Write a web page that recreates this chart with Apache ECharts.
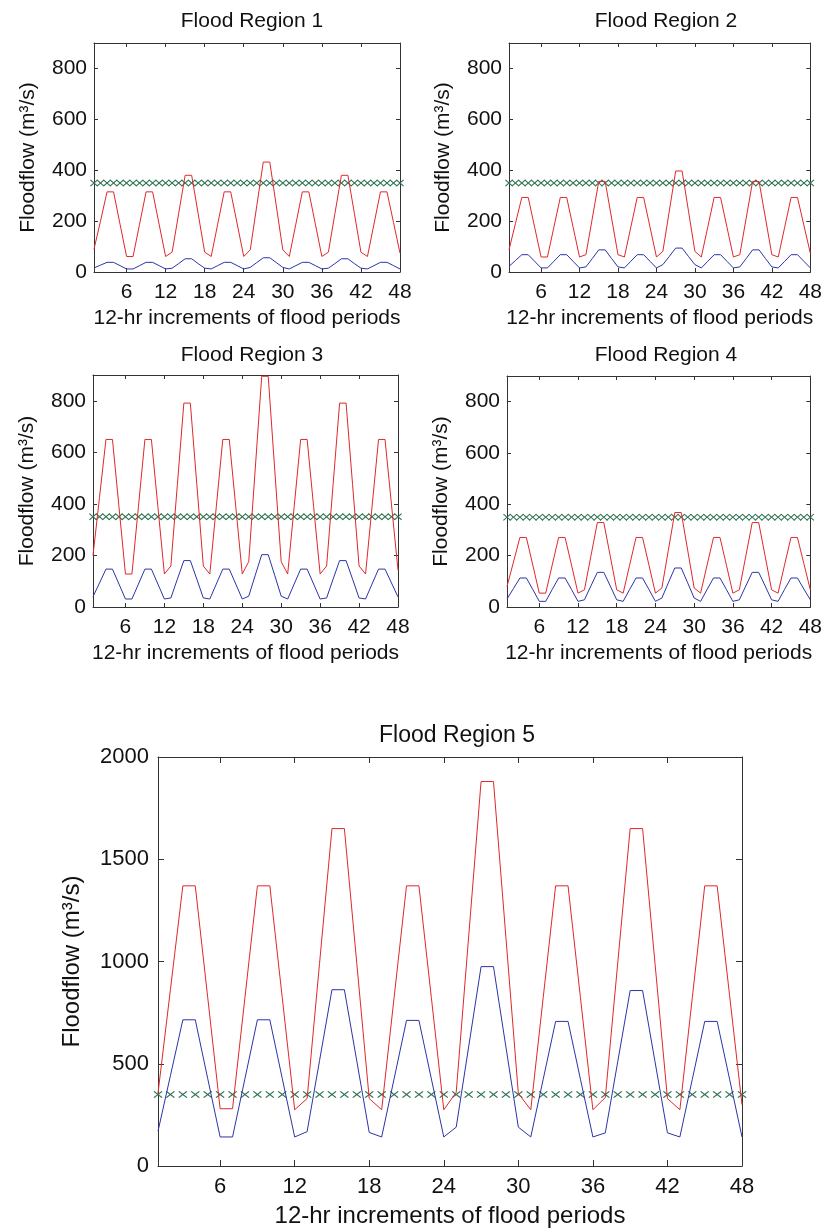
<!DOCTYPE html>
<html>
<head>
<meta charset="utf-8">
<style>
    html, body { margin: 0; padding: 0; background: #fff; }
    #chart { width: 825px; height: 1232px; }
</style>
</head>
<body>
<div id="chart"></div>
<script src="https://cdn.jsdelivr.net/npm/echarts@6/dist/echarts.min.js"></script>
<script>
// 12-hr periods on the x axis
var periods = [1,2,3,4,5,6,7,8,9,10,11,12,13,14,15,16,17,18,19,20,21,22,23,24,
               25,26,27,28,29,30,31,32,33,34,35,36,37,38,39,40,41,42,43,44,45,46,47,48];
var xTicks = [6,12,18,24,30,36,42,48];
var smallYTicks = [0,200,400,600,800];
var bigYTicks = [0,500,1000,1500,2000];
var threshold = 350;

// red = upper flow, blue = lower flow (m3/s)
var region1Red  = [90,200,315,315,188,61,61,188,315,315,188,61,78,229,380,380,229,78,61,188,315,315,188,61,
                   87,260,432,432,260,87,61,188,315,315,188,61,78,229,380,380,229,78,61,188,315,315,195,74];
var region1Blue = [16,27,38,38,25,12,12,25,38,38,25,12,15,33,52,52,33,15,12,25,38,38,25,12,
                   18,37,56,56,37,18,12,25,38,38,25,12,15,33,52,52,33,15,12,25,38,38,25,12];

var region2Red  = [87,190,293,293,176,59,59,176,293,293,176,59,68,212,356,356,212,68,59,176,293,293,176,59,
                   81,239,397,397,239,81,59,176,293,293,176,59,68,212,356,356,212,68,59,176,293,293,183,74];
var region2Blue = [22,45,68,68,42,16,16,42,68,68,42,16,20,53,87,87,53,20,16,42,68,68,42,16,
                   29,61,94,94,61,29,16,42,68,68,42,16,20,53,87,87,53,20,16,42,68,68,42,16];

var region3Red  = [200,425,650,650,389,128,128,389,650,650,389,128,159,475,791,791,475,159,128,389,650,650,389,128,
                   176,535,895,895,535,176,128,389,650,650,389,128,159,475,791,791,475,159,128,389,650,650,396,143];
var region3Blue = [40,93,147,147,89,31,31,89,147,147,89,31,35,108,180,180,108,35,31,89,147,147,89,31,
                   42,123,203,203,123,42,31,89,147,147,89,31,35,108,180,180,108,35,31,89,147,147,93,39];

var region4Red  = [80,175,271,271,163,54,54,163,271,271,163,54,67,198,329,329,198,67,54,163,271,271,163,54,
                   74,221,368,368,221,74,54,163,271,271,163,54,67,198,329,329,198,67,54,163,271,271,169,67];
var region4Blue = [31,72,113,113,68,22,22,68,113,113,68,22,28,82,135,135,82,28,22,68,113,113,68,22,
                   35,94,152,152,94,35,22,68,113,113,68,22,28,82,135,135,82,28,22,68,113,113,70,28];

var region5Red  = [356,863,1370,1370,825,280,280,825,1370,1370,823,275,330,990,1650,1650,990,330,275,823,1370,1370,823,275,
                   360,1120,1880,1880,1118,355,275,823,1370,1370,823,275,335,993,1650,1650,990,330,275,823,1370,1370,835,300];
var region5Blue = [170,442,715,715,428,142,142,428,715,715,428,142,168,515,862,862,513,164,142,426,712,712,426,142,
                   190,582,975,975,582,190,142,424,707,707,424,142,162,510,858,858,510,162,142,424,707,707,425,142];

var font = "'Liberation Sans', Arial, Helvetica, sans-serif";
var axisColor = '#333';
var textColor = '#111';
var redColor = '#e0282c';
var blueColor = '#2c34a6';
var greenColor = '#2f7352';
var crossPath = 'path://M0,1L1,0L5,4L9,0L10,1L6,5L10,9L9,10L5,6L1,10L0,9L4,5Z';

var regions = [
    {title: 'Flood Region 1', red: region1Red, blue: region1Blue, yMax: 900, yTicks: smallYTicks,
     grid: {left: 94, top: 43, width: 306, height: 229}, titleX: 247, titleY: 6, big: false},
    {title: 'Flood Region 2', red: region2Red, blue: region2Blue, yMax: 900, yTicks: smallYTicks,
     grid: {left: 509, top: 43, width: 304, height: 229}, titleX: 661, titleY: 6, big: false},
    {title: 'Flood Region 3', red: region3Red, blue: region3Blue, yMax: 900, yTicks: smallYTicks,
     grid: {left: 93, top: 375, width: 305, height: 232}, titleX: 247, titleY: 340, big: false},
    {title: 'Flood Region 4', red: region4Red, blue: region4Blue, yMax: 900, yTicks: smallYTicks,
     grid: {left: 507, top: 376, width: 306, height: 231}, titleX: 661, titleY: 340, big: false},
    {title: 'Flood Region 5', red: region5Red, blue: region5Blue, yMax: 2000, yTicks: bigYTicks,
     grid: {left: 158, top: 757, width: 584, height: 409}, titleX: 452, titleY: 719, big: true}
];

var titles = [], grids = [], xAxes = [], yAxes = [], series = [];

regions.forEach(function (r, g) {
    var fs = r.big ? 22 : 21;
    var tickLen = r.big ? 6 : 4;
    titles.push({
        text: r.title, left: r.titleX, top: r.titleY, textAlign: 'center',
        textStyle: {fontFamily: font, fontSize: r.big ? 23 : 21, fontWeight: 'normal', color: textColor}
    });
    grids.push({left: r.grid.left, top: r.grid.top, width: r.grid.width, height: r.grid.height, show: false});

    // bottom axis with labels, top axis only for the inner ticks
    xAxes.push({
        type: 'value', gridIndex: g, position: 'bottom', min: 1, max: 48,
        name: '12-hr increments of flood periods', nameLocation: 'middle', nameGap: r.big ? 38 : 36,
        nameTextStyle: {fontFamily: font, fontSize: r.big ? 24 : 21, color: textColor},
        axisLine: {show: true, onZero: false, lineStyle: {color: axisColor, width: 1}},
        axisTick: {show: true, inside: true, length: tickLen, customValues: xTicks, lineStyle: {color: axisColor}},
        axisLabel: {customValues: xTicks, margin: 10, fontFamily: font, fontSize: fs, color: textColor},
        splitLine: {show: false}
    });
    xAxes.push({
        type: 'value', gridIndex: g, position: 'top', min: 1, max: 48,
        axisLine: {show: true, onZero: false, lineStyle: {color: axisColor, width: 1}},
        axisTick: {show: true, inside: true, length: tickLen, customValues: xTicks, lineStyle: {color: axisColor}},
        axisLabel: {show: false},
        splitLine: {show: false}
    });
    yAxes.push({
        type: 'value', gridIndex: g, position: 'left', min: 0, max: r.yMax,
        name: 'Floodflow (m³/s)', nameLocation: 'middle', nameGap: r.big ? 74 : 55,
        nameTextStyle: {fontFamily: font, fontSize: r.big ? 24 : 21, color: textColor},
        axisLine: {show: true, onZero: false, lineStyle: {color: axisColor, width: 1}},
        axisTick: {show: true, inside: true, length: tickLen, customValues: r.yTicks, lineStyle: {color: axisColor}},
        axisLabel: {customValues: r.yTicks, margin: r.big ? 9 : 7, fontFamily: font, fontSize: fs, color: textColor,
                    formatter: function (v) { return String(v); }},
        splitLine: {show: false}
    });
    yAxes.push({
        type: 'value', gridIndex: g, position: 'right', min: 0, max: r.yMax,
        axisLine: {show: true, onZero: false, lineStyle: {color: axisColor, width: 1}},
        axisTick: {show: true, inside: true, length: tickLen, customValues: r.yTicks, lineStyle: {color: axisColor}},
        axisLabel: {show: false},
        splitLine: {show: false}
    });

    series.push({
        type: 'line', xAxisIndex: 2 * g, yAxisIndex: 2 * g, symbol: 'none',
        lineStyle: {color: redColor, width: 1},
        data: periods.map(function (p, i) { return [p, r.red[i]]; })
    });
    series.push({
        type: 'line', xAxisIndex: 2 * g, yAxisIndex: 2 * g, symbol: 'none',
        lineStyle: {color: blueColor, width: 1},
        data: periods.map(function (p, i) { return [p, r.blue[i]]; })
    });
    series.push({
        type: 'scatter', xAxisIndex: 2 * g, yAxisIndex: 2 * g,
        symbol: crossPath, symbolSize: r.big ? [9, 7] : [8, 7],
        itemStyle: {color: greenColor, opacity: 1},
        data: periods.map(function (p) { return [p, threshold]; })
    });
});

var chart = echarts.init(document.getElementById('chart'));
chart.setOption({
    backgroundColor: '#fff',
    animation: false,
    title: titles,
    grid: grids,
    xAxis: xAxes,
    yAxis: yAxes,
    series: series
});
</script>
</body>
</html>
